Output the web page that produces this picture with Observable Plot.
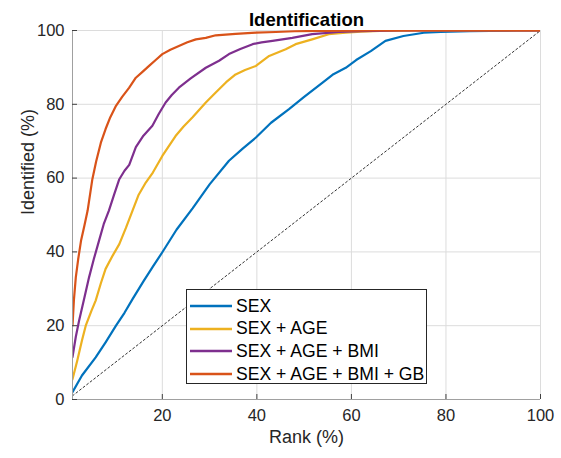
<!DOCTYPE html>
<html>
<head>
<meta charset="utf-8">
<script src="https://cdn.jsdelivr.net/npm/d3@7"></script>
<script src="https://cdn.jsdelivr.net/npm/@observablehq/plot@0.6"></script>
<style>
  body { margin: 0; background: #fff; }
  #wrap { position: relative; width: 561px; height: 458px; font-family: "Liberation Sans", Arial, sans-serif; }
  #legend { position: absolute; left: 186px; top: 289px; width: 239px; height: 93px; background: #fff; border: 1px solid #262626; box-sizing: content-box; }
  .row { position: absolute; left: 0; height: 22px; display: flex; align-items: center; font-size: 17.6px; color: #000; white-space: nowrap; }
  .row svg { margin-left: 3px; margin-right: 4px; }
</style>
</head>
<body>
<div id="wrap"></div>
<script>
const seriesNames = ["SEX", "SEX + AGE", "SEX + AGE + BMI", "SEX + AGE + BMI + GB"];
const seriesColors = ["#0072BD", "#EDB120", "#7E2F8E", "#D95319"];

const sexRank = [1, 3, 5.9, 8, 10.2, 12, 13.7, 16, 18, 20, 23, 26.4, 30, 34.1, 37, 39.8, 43, 46.8, 50, 53.9, 56, 58.8, 61, 64.1, 67.2, 71, 75.3, 78.9, 85, 95, 100];
const sexId   = [2, 6.5, 11.4, 15.5, 20, 23.5, 27.2, 32, 36, 39.9, 46, 51.8, 58.3, 64.7, 68, 71, 75, 78.7, 82, 85.9, 88, 89.9, 92, 94.4, 97.2, 98.5, 99.4, 99.6, 99.8, 100, 100];

const ageRank = [1, 2, 3, 3.8, 5, 5.9, 7, 8, 9.5, 10.9, 12.3, 13.7, 15, 16.5, 18, 20, 22.8, 24.5, 26.4, 29.2, 31.3, 33.5, 35.5, 37.5, 39.8, 42.6, 46.1, 48.2, 51.7, 55.2, 58.8, 62, 66, 75, 100];
const ageId   = [5.5, 10.5, 16, 20, 24, 26.8, 31.5, 35.4, 39, 42.1, 46.5, 51.2, 55.5, 58.8, 61.5, 66, 71.4, 74, 76.5, 80.5, 83.2, 86, 88.1, 89.3, 90.4, 93.1, 94.9, 96.3, 97.6, 99, 99.4, 99.7, 99.9, 100, 100];

const bmiRank = [1, 1.7, 2.4, 3.5, 4.5, 5.5, 6.6, 7.6, 8.7, 9.8, 10.9, 12, 13, 14.4, 16, 17.9, 19.3, 20.7, 22, 23.5, 26, 29.2, 29.9, 32, 34.1, 36.5, 39.1, 41, 43.3, 47.5, 51.7, 57.3, 62, 70, 100];
const bmiId   = [11.5, 17, 21.4, 27.5, 33.1, 38, 43, 47.5, 51.2, 55.5, 59.7, 62, 63.6, 68.4, 71.5, 74.2, 77.5, 80.5, 82.5, 84.5, 87, 89.9, 90.4, 91.8, 93.6, 95, 96.3, 96.8, 97.2, 98, 99, 99.6, 99.8, 100, 100];

const gbRank = [1, 1.3, 1.7, 2.2, 2.8, 3.5, 4.2, 5.2, 6, 7, 8, 9, 10.2, 11.5, 13, 14.4, 15.8, 17.2, 18.6, 20, 21.7, 23.5, 25.3, 27.1, 29.2, 31.3, 35.5, 39.8, 44, 48, 55, 65, 100];
const gbId   = [20, 27, 33.1, 38, 43, 47, 51.2, 59.7, 64.5, 69.6, 73.3, 76.5, 79.6, 82, 84.5, 87.2, 88.8, 90.4, 92, 93.6, 94.8, 95.8, 96.8, 97.6, 98, 98.7, 99.1, 99.4, 99.6, 99.8, 99.9, 100, 100];

const chanceRank = [1, 100];
const chanceId = [1, 100];

const xTicks = [20, 40, 60, 80, 100];
const yTicks = [0, 20, 40, 60, 80, 100];
const xDomain = [1, 100];
const yDomain = [0, 100];

const ranks = [sexRank, ageRank, bmiRank, gbRank];
const ids = [sexId, ageId, bmiId, gbId];
const rows = [];
seriesNames.forEach((name, i) => ranks[i].forEach((r, j) => rows.push({series: name, rank: r, id: ids[i][j]})));
const chance = chanceRank.map((r, j) => ({rank: r, id: chanceId[j]}));

const font = "'Liberation Sans', Arial, sans-serif";

const chart = Plot.plot({
  width: 561,
  height: 458,
  marginLeft: 72,
  marginRight: 21,
  marginTop: 30,
  marginBottom: 59,
  style: {fontFamily: font, background: "#fff", color: "#262626"},
  x: {type: "linear", domain: xDomain, axis: null},
  y: {type: "linear", domain: yDomain, axis: null},
  color: {domain: seriesNames, range: seriesColors},
  marks: [
    Plot.gridX(xTicks, {stroke: "#dcdcdc", strokeOpacity: 1}),
    Plot.gridY(yTicks, {stroke: "#dcdcdc", strokeOpacity: 1}),
    Plot.line(chance, {x: "rank", y: "id", stroke: "#333", strokeWidth: 1, strokeDasharray: "2,2.5"}),
    Plot.line(rows, {x: "rank", y: "id", z: "series", stroke: "series", strokeWidth: 2.2, clip: true}),
    Plot.ruleX([xDomain[0]], {stroke: "#a0a0a0", strokeWidth: 1}),
    Plot.ruleY([yDomain[0]], {stroke: "#a0a0a0", strokeWidth: 1}),
    Plot.axisX(xTicks, {tickSize: 0, tickPadding: 10, fontSize: 16.5, label: null, fill: "#262626"}),
    Plot.axisX(xTicks, {tickSize: -5, tickFormat: () => "", label: null, stroke: "#404040"}),
    Plot.axisY(yTicks, {tickSize: 0, tickPadding: 8, fontSize: 16.5, label: null, fill: "#262626"}),
    Plot.axisY(yTicks, {tickSize: -5, tickFormat: () => "", label: null, stroke: "#404040"}),
    Plot.text(["Rank (%)"], {frameAnchor: "bottom", dy: 43, fontSize: 18, fill: "#262626"}),
    Plot.text(["Identified (%)"], {frameAnchor: "left", dx: -44, rotate: -90, fontSize: 18, fill: "#262626"}),
    Plot.text(["Identification"], {frameAnchor: "top", dy: -18, fontSize: 18.5, fontWeight: "bold", fill: "#000"})
  ]
});

const wrap = document.getElementById("wrap");
wrap.appendChild(chart);

const legend = document.createElement("div");
legend.id = "legend";
seriesNames.forEach((name, i) => {
  const row = document.createElement("div");
  row.className = "row";
  row.style.top = (5 + i * 22.7) + "px";
  row.innerHTML = `<svg width="42" height="6"><line x1="0" y1="3" x2="42" y2="3" stroke="${seriesColors[i]}" stroke-width="2.5"/></svg><span>${name}</span>`;
  legend.appendChild(row);
});
wrap.appendChild(legend);
</script>
</body>
</html>
